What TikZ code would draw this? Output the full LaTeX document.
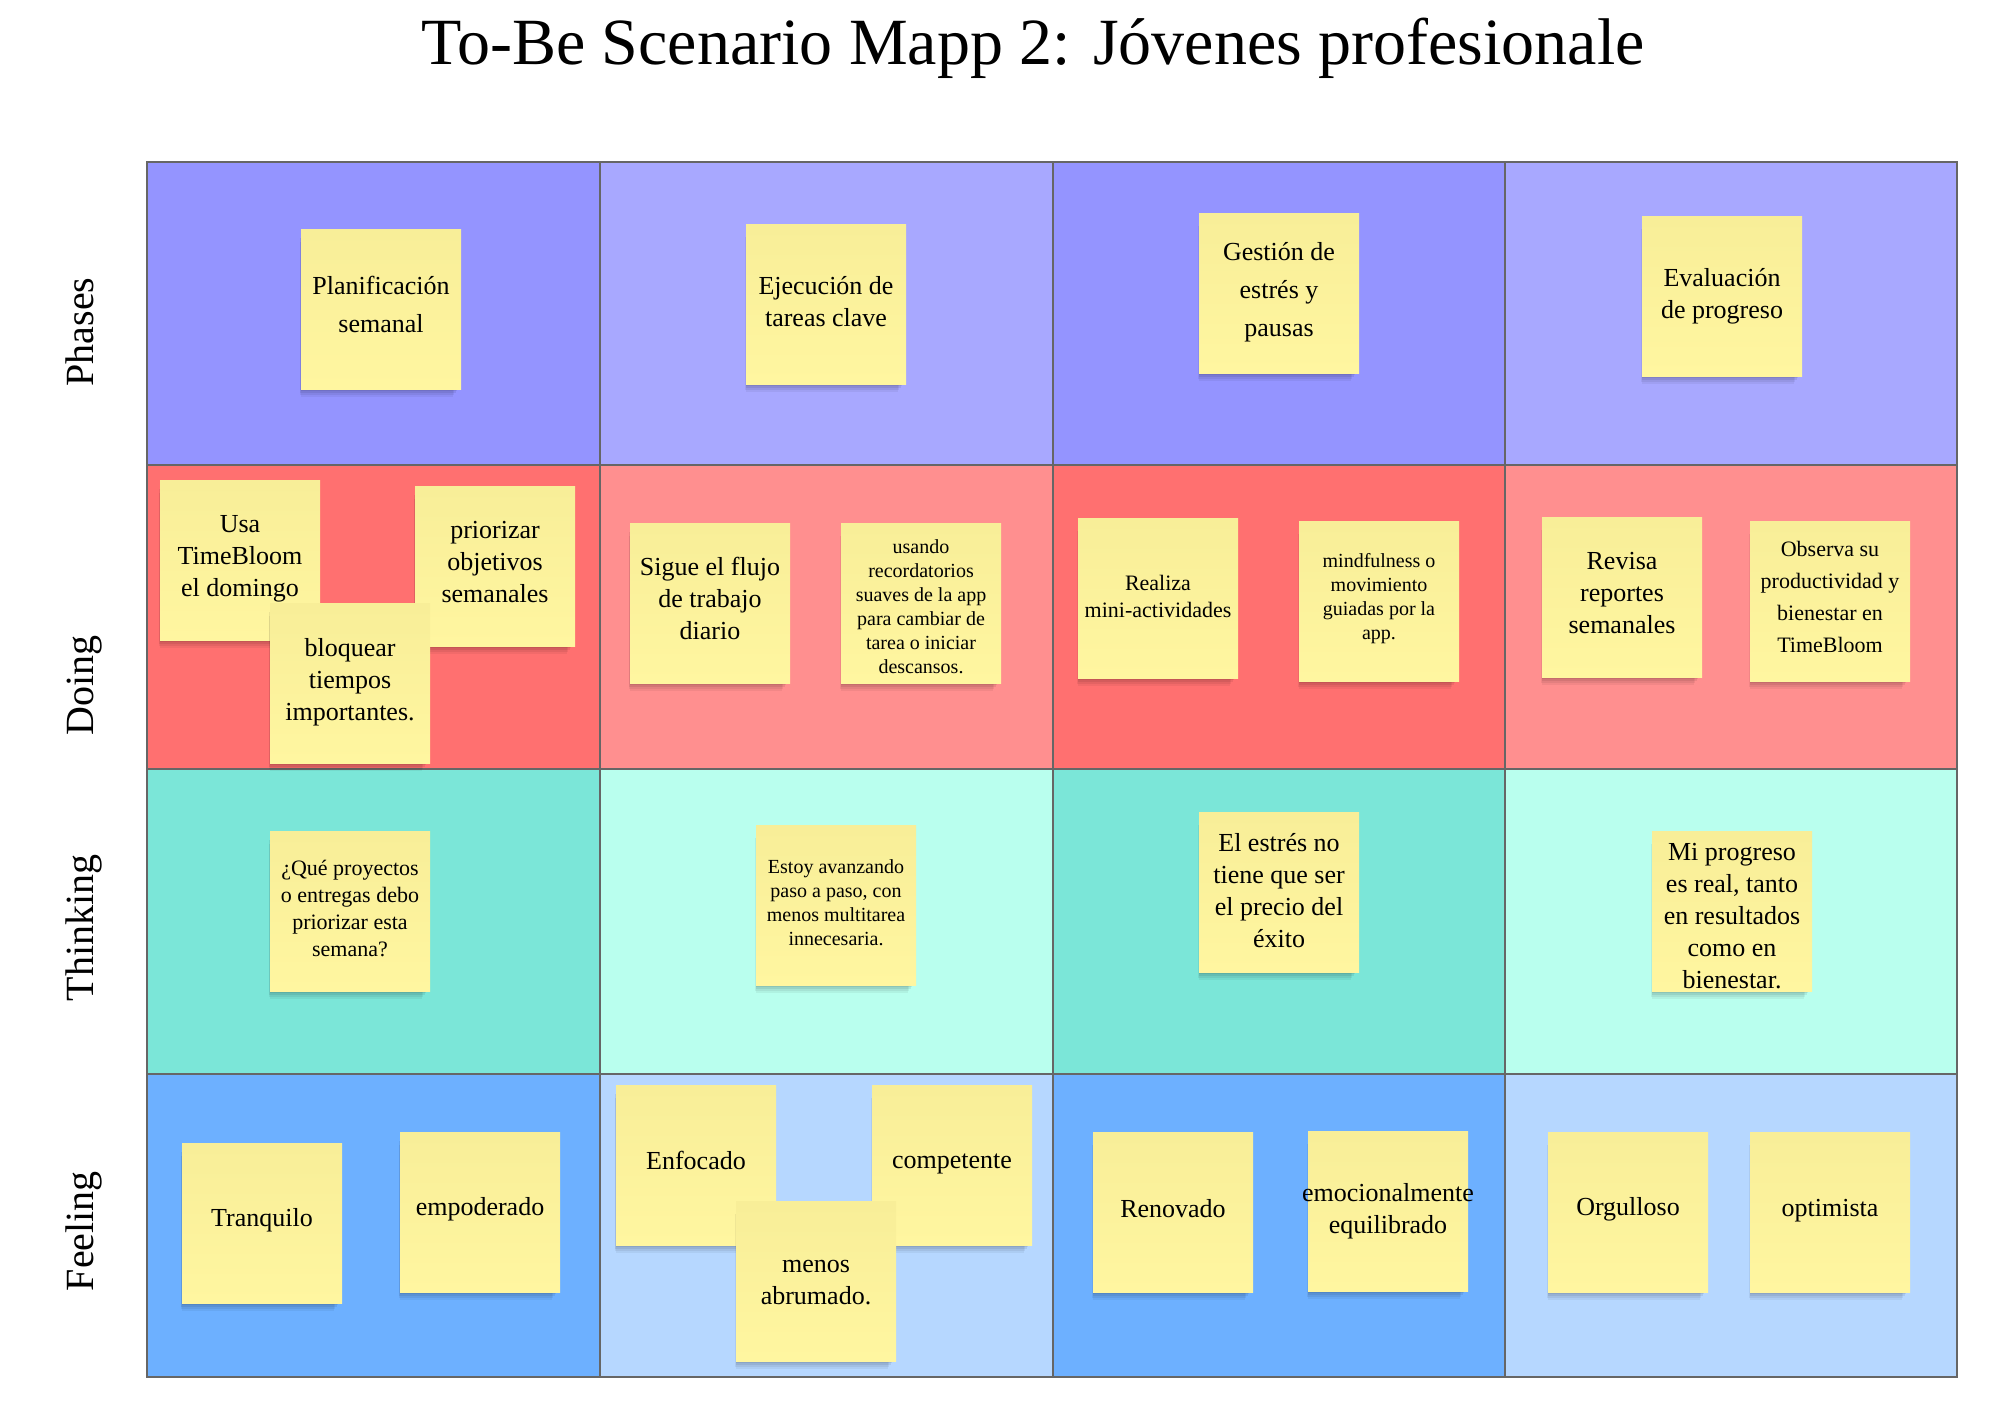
\documentclass[tikz,border=0pt]{standalone}
\usepackage{fontspec}
\setmainfont{Liberation Serif}
\usetikzlibrary{shadows}
\definecolor{phA}{HTML}{9494FF}
\definecolor{phB}{HTML}{A8A8FF}
\definecolor{doA}{HTML}{FF7070}
\definecolor{doB}{HTML}{FF8F8F}
\definecolor{thA}{HTML}{7BE6D8}
\definecolor{thB}{HTML}{B9FFEE}
\definecolor{feA}{HTML}{6DB0FF}
\definecolor{feB}{HTML}{B6D7FF}
\definecolor{stkTop}{HTML}{F8EE98}
\definecolor{stkBot}{HTML}{FFF6A0}
\definecolor{gridc}{HTML}{666666}
\newcommand\stkA{\fontsize{13}{16}\selectfont}
\newcommand\stkAw{\fontsize{13}{19}\selectfont}
\newcommand\stkB{\fontsize{11}{13.4}\selectfont}
\newcommand\stkBw{\fontsize{11}{16}\selectfont}
\newcommand\stkC{\fontsize{10}{12}\selectfont}
\tikzset{
  stkpaper/.style={rectangle, minimum width=80pt, minimum height=80pt, inner sep=0pt,
    top color=stkTop, bottom color=stkBot,
    general shadow={fill=black, opacity=0.07, shadow xshift=-1pt, shadow yshift=-2pt, shadow scale=0.98},
    general shadow={fill=black, opacity=0.07, shadow xshift=-1.5pt, shadow yshift=-3.5pt, shadow scale=0.97},
    general shadow={fill=black, opacity=0.06, shadow xshift=-2pt, shadow yshift=-5pt, shadow scale=0.96},
    general shadow={fill=black, opacity=0.05, shadow xshift=-2pt, shadow yshift=-6.5pt, shadow scale=0.95}},
  stktext/.style={align=center, inner sep=0pt, text=black, font=\stkA},
  gridline/.style={draw=gridc, line width=1.3pt},
  rowlabel/.style={rotate=90, anchor=base, font=\fontsize{20}{24}\selectfont, text=black},
  titletext/.style={anchor=base, font=\fontsize{33}{40}\selectfont, text=black}
}
\begin{document}
\begin{tikzpicture}[x=0.5pt, y=-0.5pt]
\useasboundingbox (0,0) rectangle (2000,1420);
\fill[white] (0,0) rectangle (2000,1420);
% cells
\fill[phA] (147,162) rectangle (600,465);
\fill[phB] (600,162) rectangle (1053,465);
\fill[phA] (1053,162) rectangle (1505,465);
\fill[phB] (1505,162) rectangle (1957,465);
\fill[doA] (147,465) rectangle (600,769);
\fill[doB] (600,465) rectangle (1053,769);
\fill[doA] (1053,465) rectangle (1505,769);
\fill[doB] (1505,465) rectangle (1957,769);
\fill[thA] (147,769) rectangle (600,1074);
\fill[thB] (600,769) rectangle (1053,1074);
\fill[thA] (1053,769) rectangle (1505,1074);
\fill[thB] (1505,769) rectangle (1957,1074);
\fill[feA] (147,1074) rectangle (600,1377);
\fill[feB] (600,1074) rectangle (1053,1377);
\fill[feA] (1053,1074) rectangle (1505,1377);
\fill[feB] (1505,1074) rectangle (1957,1377);
% grid lines
\draw[gridline] (600,162) -- (600,1377) (1053,162) -- (1053,1377) (1505,162) -- (1505,1377);
\draw[gridline] (147,465) -- (1957,465) (147,769) -- (1957,769) (147,1074) -- (1957,1074);
\draw[gridline] (147,162) rectangle (1957,1377);
% title
\node[titletext] (title) at (1033,64) {To-Be Scenario Mapp 2: Jóvenes profesionale};
% row labels
\node[rowlabel] (lphases) at (93,332) {Phases};
\node[rowlabel] (ldoing) at (93,685) {Doing};
\node[rowlabel] (lthinking) at (93,928) {Thinking};
\node[rowlabel] (lfeeling) at (93,1231) {Feeling};
% phases
\node[stkpaper] (plan) at (381,309) {};
\node[stktext, font=\stkAw, yshift=2.5pt] (plan-t) at (plan) {Planificación\\semanal};
\node[stkpaper] (ejec) at (826,304) {};
\node[stktext, yshift=1.3pt] (ejec-t) at (ejec) {Ejecución de\\tareas clave};
\node[stkpaper] (gest) at (1279,293) {};
\node[stktext, font=\stkAw, yshift=0.6pt] (gest-t) at (gest) {Gestión de\\estrés y\\pausas};
\node[stkpaper] (eval) at (1722,296) {};
\node[stktext] (eval-t) at (eval) {Evaluación\\de progreso};
% doing
\node[stkpaper] (usa) at (240,560) {};
\node[stktext, yshift=0.6pt] (usa-t) at (usa) {Usa\\TimeBloom\\el domingo};
\node[stkpaper] (prio) at (495,566) {};
\node[stktext, yshift=1.9pt] (prio-t) at (prio) {priorizar\\objetivos\\semanales};
\node[stkpaper] (bloq) at (350,683) {};
\node[stktext, yshift=0.6pt] (bloq-t) at (bloq) {bloquear\\tiempos\\importantes.};
\node[stkpaper] (sigue) at (710,603) {};
\node[stktext, yshift=2.2pt] (sigue-t) at (sigue) {Sigue el flujo\\de trabajo\\diario};
\node[stkpaper] (usando) at (921,603) {};
\node[stktext, font=\stkC, yshift=-1.9pt] (usando-t) at (usando) {usando\\recordatorios\\suaves de la app\\para cambiar de\\tarea o iniciar\\descansos.};
\node[stkpaper] (realiza) at (1158,598) {};
\node[stktext, font=\fontsize{11}{13.5}\selectfont, yshift=1pt] (realiza-t) at (realiza) {Realiza\\mini-actividades};
\node[stkpaper] (mind) at (1379,601) {};
\node[stktext, font=\stkC, yshift=1.3pt] (mind-t) at (mind) {mindfulness o\\movimiento\\guiadas por la\\app.};
\node[stkpaper] (revisa) at (1622,597) {};
\node[stktext, yshift=1.9pt] (revisa-t) at (revisa) {Revisa\\reportes\\semanales};
\node[stkpaper] (observa) at (1830,601) {};
\node[stktext, font=\stkBw, yshift=1.9pt] (observa-t) at (observa) {Observa su\\productividad y\\bienestar en\\TimeBloom};
% thinking
\node[stkpaper] (que) at (350,911) {};
\node[stktext, font=\stkB, yshift=1.3pt] (que-t) at (que) {¿Qué proyectos\\o entregas debo\\priorizar esta\\semana?};
\node[stkpaper] (estoy) at (836,905) {};
\node[stktext, font=\stkC, yshift=1.3pt] (estoy-t) at (estoy) {Estoy avanzando\\paso a paso, con\\menos multitarea\\innecesaria.};
\node[stkpaper] (estres) at (1279,892) {};
\node[stktext, yshift=0.6pt] (estres-t) at (estres) {El estrés no\\tiene que ser\\el precio del\\éxito};
\node[stkpaper] (mipro) at (1732,911) {};
\node[stktext, yshift=-2.5pt] (mipro-t) at (mipro) {Mi progreso\\es real, tanto\\en resultados\\como en\\bienestar.};
% feeling
\node[stkpaper] (tranq) at (262,1223) {};
\node[stktext, yshift=1.3pt] (tranq-t) at (tranq) {Tranquilo};
\node[stkpaper] (empod) at (480,1212) {};
\node[stktext, yshift=1.3pt] (empod-t) at (empod) {empoderado};
\node[stkpaper] (enfo) at (696,1165) {};
\node[stktext, yshift=2.5pt] (enfo-t) at (enfo) {Enfocado};
\node[stkpaper] (compe) at (952,1165) {};
\node[stktext, yshift=0.6pt] (compe-t) at (compe) {competente};
\node[stkpaper] (menos) at (816,1281) {};
\node[stktext, yshift=-0.6pt] (menos-t) at (menos) {menos\\abrumado.};
\node[stkpaper] (renov) at (1173,1212) {};
\node[stktext, yshift=1.9pt] (renov-t) at (renov) {Renovado};
\node[stkpaper] (emoc) at (1388,1211) {};
\node[stktext] (emoc-t) at (emoc) {emocionalmente\\equilibrado};
\node[stkpaper] (orgu) at (1628,1212) {};
\node[stktext, yshift=1.3pt] (orgu-t) at (orgu) {Orgulloso};
\node[stkpaper] (opti) at (1830,1212) {};
\node[stktext, yshift=0.6pt] (opti-t) at (opti) {optimista};
\end{tikzpicture}
\end{document}
